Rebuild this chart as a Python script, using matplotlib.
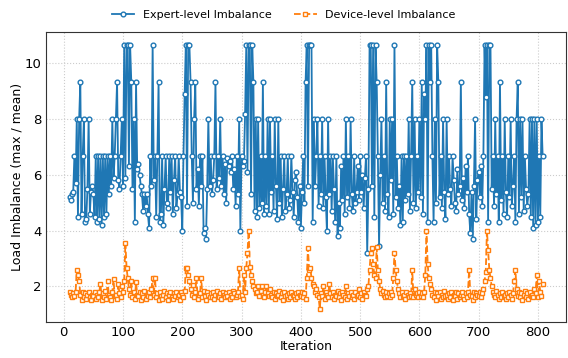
import numpy as np
import matplotlib.pyplot as plt

# logged every 2 iterations, 10 .. 808
iterations = np.arange(10, 810, 2)

expert_imbalance = [
    5.2, 5.1, 5.3, 5.4, 6.67, 5.7, 8, 4.5, 8, 9.33,
    4.6, 6.67, 8, 4.3, 4.4, 5.5, 8, 4.6, 5.4, 5.6,
    5.3, 4.5, 6.67, 4.3, 6.67, 4.4, 6.67, 4.2, 6.67, 4.5,
    6.67, 4.6, 6.67, 5.3, 6.67, 5.6, 8, 5.9, 6.67, 8,
    9.33, 5.8, 5.5, 6.67, 8, 5.6, 10.67, 5.9, 10.67, 10.67,
    6.3, 10.67, 9.33, 5.5, 8, 4.3, 9.33, 6.2, 6.4, 6.0,
    5.6, 5.3, 4.7, 5.3, 4.9, 5.3, 4.6, 4.1, 6.67, 5.6,
    10.67, 5.8, 6.67, 4.5, 6.67, 9.33, 4.3, 4.6, 6.67, 4.2,
    5.5, 6.67, 5.0, 4.8, 6.67, 5.4, 6.67, 4.6, 5.8, 6.67,
    4.8, 5.3, 6.67, 5.4, 5.2, 4.0, 6.67, 8.9, 10.67, 4.9,
    10.67, 10.67, 9.33, 6.67, 5.0, 8, 9.33, 5.5, 6.2, 4.9,
    6.67, 5.6, 6.67, 3.9, 4.1, 3.7, 5.5, 8, 5.6, 6.67,
    5.3, 5.8, 6.67, 9.33, 5.5, 6.67, 5.9, 8, 5.6, 6.67,
    5.3, 6.4, 5.0, 6.6, 6.3, 6.5, 6.1, 6.67, 5.5, 6.2,
    4.9, 6.67, 5.3, 8, 4.0, 6.67, 6.3, 6.5, 8.2, 10.67,
    6.1, 10.67, 10.67, 5.3, 10.67, 9.33, 4.7, 8, 4.5, 8,
    4.8, 6.67, 5.0, 9.33, 4.6, 6.67, 4.9, 8, 4.6, 8,
    5.4, 6.67, 4.7, 8, 5.6, 4.4, 8, 5.0, 6.67, 4.5,
    5.5, 6.67, 4.7, 5.3, 6.67, 4.8, 5.1, 6.67, 5.4, 4.5,
    5.8, 6.1, 5.2, 4.3, 5.6, 4.1, 5.4, 6.67, 5.0, 9.33,
    10.67, 5.6, 10.67, 10.67, 10.67, 4.3, 8, 5.6, 6.67, 8,
    4.9, 6.67, 5.3, 8, 4.8, 6.67, 5.2, 4.0, 8, 5.3,
    6.67, 4.7, 6.67, 5.5, 4.3, 6.67, 3.8, 5.0, 4.1, 6.3,
    5.1, 6.67, 4.6, 8, 5.2, 6.67, 4.8, 8, 5.3, 4.7,
    6.67, 5.0, 5.4, 6.3, 5.1, 6.67, 5.4, 6.0, 4.8, 5.9,
    6.67, 3.2, 5.5, 10.67, 10.67, 5.6, 10.67, 4.5, 10.67, 9.33,
    6.67, 3.45, 6.0, 8, 5.0, 6.67, 4.7, 9.33, 5.3, 4.5,
    8, 5.8, 8, 4.6, 10.67, 5.2, 6.67, 4.8, 5.6, 4.2,
    6.67, 4.3, 6.67, 5.1, 6.67, 5.3, 8, 4.7, 6.67, 9.33,
    5.0, 8, 4.8, 6.67, 5.4, 8, 5.2, 9.33, 4.6, 8.9,
    8, 10.67, 4.3, 10.67, 9.33, 10.67, 6.67, 4.3, 8, 5.0,
    10.67, 9.33, 5.2, 6.67, 4.8, 8, 5.4, 4.4, 8, 5.3,
    6.67, 5.5, 4.9, 6.67, 5.8, 5.0, 4.7, 6.2, 5.3, 5.6,
    9.33, 5.1, 5.9, 4.8, 6.3, 5.4, 6.67, 4.6, 3.9, 5.4,
    3.7, 5.6, 8, 4.4, 5.8, 6.1, 5.2, 6.3, 4.9, 6.67,
    10.67, 8.8, 10.67, 4.3, 10.67, 10.67, 5.5, 6.67, 4.9, 8,
    5.3, 6.67, 4.3, 9.33, 5.1, 6.67, 4.6, 8, 5.4, 4.5,
    6.67, 5.2, 8, 4.9, 5.6, 6.67, 4.3, 8, 9.33, 4.6,
    8, 5.2, 8, 4.7, 6.67, 5.5, 4.9, 5.3, 8, 4.5,
    8, 4.1, 8, 4.2, 8, 4.3, 6.67, 4.5, 8, 6.67,
]

device_imbalance = [
    # 10 - 48
    1.8, 1.7, 1.6, 1.75, 1.65, 1.8, 2.6, 2.4, 2.2, 1.7,
    1.5, 1.8, 1.6, 1.75, 1.55, 1.7, 1.8, 1.6, 1.5, 1.7,
    # 50 - 98
    1.65, 1.8, 1.55, 1.7, 1.6, 1.8, 2.1, 1.5, 1.75, 1.6, 1.85, 1.55, 2.2,
    1.7, 1.6, 1.5, 1.8, 2.25, 1.65, 1.7, 1.55, 2.1, 1.75, 1.6, 2.0,
    # 100 - 148
    1.8, 2.2, 3.57, 2.67, 2.3, 1.9, 1.7, 2.2, 1.6, 1.8, 1.55, 2.15, 1.7,
    1.65, 1.8, 1.5, 1.75, 1.6, 1.85, 1.55, 1.7, 1.65, 1.8, 1.6, 1.9,
    # 150 - 198
    2.3, 1.7, 2.3, 1.6, 1.75, 1.5, 1.8, 1.65, 1.55, 1.7, 1.85, 1.6, 1.75,
    1.5, 1.7, 1.8, 1.6, 1.55, 1.75, 1.65, 1.8, 1.6, 1.7, 1.5, 1.8,
    # 200 - 248
    1.7, 1.6, 1.85, 2.67, 2.67, 2.4, 2.2, 1.9, 1.7, 2.05, 1.6, 1.8, 2.3,
    1.55, 1.7, 1.75, 2.3, 1.6, 1.85, 1.65, 1.5, 1.8, 1.7, 1.6, 1.75,
    # 250 - 298
    1.6, 1.8, 1.55, 1.7, 1.85, 1.65, 1.6, 1.75, 1.55, 1.8, 1.7, 1.6, 1.75,
    1.65, 1.8, 1.55, 1.7, 1.6, 1.85, 1.75, 1.6, 1.7, 1.8, 2.67, 1.65,
    # 300 - 348
    1.7, 1.55, 2.4, 1.8, 2.67, 3.2, 4.0, 2.7, 2.4, 2.2, 2.0, 1.9, 1.75,
    1.8, 2.0, 1.65, 1.85, 2.0, 1.7, 1.6, 1.8, 2.0, 1.75, 1.65, 1.9,
    # 350 - 398
    1.7, 1.6, 1.8, 1.55, 1.75, 1.65, 1.7, 1.85, 1.6, 1.75, 1.5, 1.8, 1.65,
    1.7, 1.55, 1.75, 1.6, 1.8, 1.7, 1.65, 1.55, 1.75, 1.6, 1.8, 1.7,
    # 400 - 448
    1.65, 1.8, 1.6, 1.75, 1.55, 2.3, 3.37, 2.6, 2.67, 2.3, 2.1, 2.0, 1.8,
    1.9, 1.7, 1.6, 1.2, 1.75, 1.65, 2.0, 1.55, 1.8, 1.7, 1.6, 2.1,
    # 450 - 498
    1.75, 1.6, 1.8, 1.55, 1.7, 1.65, 1.85, 1.6, 1.75, 1.5, 1.8, 1.7, 1.6,
    2.0, 1.55, 1.75, 1.65, 1.8, 1.6, 1.7, 1.55, 1.8, 1.65, 1.7, 1.9,
    # 500 - 548
    1.6, 1.75, 1.55, 1.8, 1.7, 1.65, 1.9, 2.0, 2.6, 3.2, 3.37, 2.8, 2.4,
    2.3, 3.4, 2.6, 2.2, 1.9, 1.75, 1.85, 1.7, 1.6, 1.8, 1.65, 1.75,
    # 550 - 598
    1.6, 1.8, 1.7, 2.3, 3.2, 2.6, 2.2, 1.9, 1.75, 1.6, 1.8, 1.65, 1.7,
    1.55, 1.8, 1.7, 1.6, 1.75, 1.65, 2.6, 1.6, 1.9, 1.7, 1.75, 1.6,
    # 600 - 648
    1.8, 1.65, 1.75, 1.6, 1.8, 2.4, 4.0, 2.8, 2.3, 2.1, 1.9, 1.7, 1.6,
    1.8, 1.5, 1.75, 1.65, 1.8, 1.55, 1.7, 1.6, 1.85, 1.65, 1.7, 1.55,
    # 650 - 698
    1.75, 1.6, 1.8, 1.5, 1.7, 1.65, 1.8, 1.55, 1.75, 1.6, 1.7, 1.8, 1.65,
    1.55, 1.75, 1.6, 1.8, 2.6, 1.7, 1.65, 1.5, 1.8, 1.6, 1.75, 1.7,
    # 700 - 748
    1.65, 1.8, 1.6, 1.75, 1.9, 2.2, 2.5, 4.0, 3.3, 2.6, 2.3, 2.0, 1.8,
    1.7, 1.6, 1.85, 1.7, 1.55, 1.75, 1.6, 1.8, 1.65, 1.7, 1.55, 1.75,
    # 750 - 808
    1.6, 1.8, 1.7, 1.55, 1.75, 2.2, 2.6, 1.9, 1.65, 1.8, 1.6, 1.75, 1.5,
    1.7, 1.85, 1.6, 1.75, 1.55, 1.8, 1.65, 1.7, 1.6, 1.9, 1.75, 2.4,
    1.6, 2.2, 1.8, 1.65, 2.1,
]

fig, ax = plt.subplots(figsize=(5.68, 3.58), dpi=100)
fig.subplots_adjust(left=0.081, right=0.997, top=0.912, bottom=0.101)

ax.plot(iterations, expert_imbalance, color="#1f77b4", linestyle="-", linewidth=1.3,
        marker="o", markersize=3.4, markerfacecolor="white", markeredgewidth=1.0,
        label="Expert-level Imbalance")
ax.plot(iterations, device_imbalance, color="#ff7f0e", linestyle="--", linewidth=1.3,
        marker="s", markersize=3.4, markerfacecolor="white", markeredgewidth=1.0,
        label="Device-level Imbalance")

ax.set_xlabel("Iteration", fontsize=9, labelpad=1)
ax.set_ylabel("Load Imbalance (max / mean)", fontsize=9, labelpad=1)
ax.set_xticks(range(0, 801, 100))
ax.set_yticks([2, 4, 6, 8, 10])
ax.tick_params(labelsize=9.5, length=0, pad=3)
ax.grid(True, linestyle=":", color="#cccccc", linewidth=0.8)
for sp in ax.spines.values():
    sp.set_color("#333333")

fig.legend(loc="upper center", bbox_to_anchor=(0.5, 1.0), ncol=2, frameon=False,
           fontsize=8, handlelength=2, columnspacing=2)

fig.savefig("out.png", dpi=100)
